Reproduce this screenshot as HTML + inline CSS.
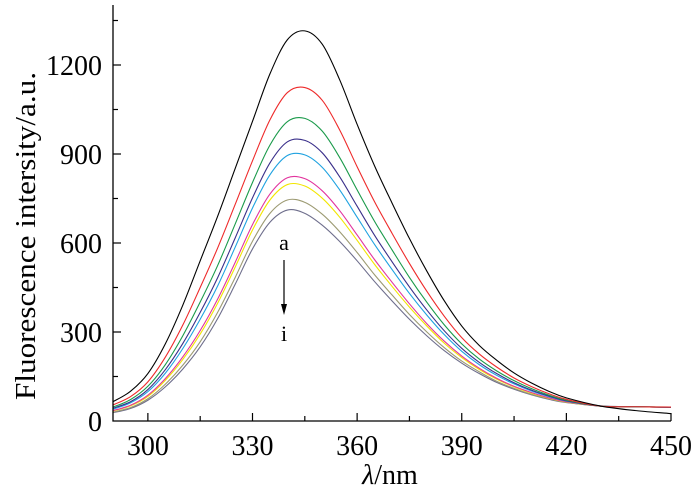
<!DOCTYPE html>
<html><head><meta charset="utf-8"><style>
body{margin:0;background:#fff}
svg{display:block;font-family:"Liberation Serif",serif}
</style></head><body>
<svg id="c" width="700" height="496"></svg>
<script>
const wl=[290,295,300,305,310,315,320,325,330,335,340,345,350,355,360,365,370,375,380,385,390,395,400,405,410,415,420,430,440,450];
const sA=[65,100,160,260,390,540,690,850,1010,1170,1285,1315,1270,1150,1000,860,735,615,505,405,320,255,205,162,128,100,78,50,35,25];
const sB=[54,82,132,215,323,450,583,729,877,1015,1107,1124,1081,981,857,739,633,531,437,353,281,226,182,145,116,92,73,50,48,47];
const sC=[47,72,117,190,287,401,524,663,804,930,1009,1020,977,888,779,673,577,484,400,324,260,209,169,136,109,87,70,50,48,47];
const sD=[43,65,106,173,261,366,483,616,752,870,941,946,904,823,724,626,537,452,374,304,245,198,160,129,104,84,68,50,48,46];
const sE=[40,61,99,161,244,343,455,585,718,830,895,897,855,779,687,595,511,430,357,291,235,190,154,125,101,82,67,50,48,46];
const sF=[35,53,87,143,216,305,411,534,662,765,820,817,776,709,627,544,468,395,328,269,219,178,144,117,96,78,65,50,48,46];
const sG=[34,51,83,137,207,293,397,518,644,745,797,792,751,687,609,528,454,384,320,262,214,174,141,115,94,77,64,50,48,46];
const sH=[30,45,75,124,188,267,366,483,606,700,745,737,697,638,568,493,425,359,300,247,202,166,134,110,90,75,63,50,48,46];
const sI=[28,42,70,115,175,250,345,460,580,670,711,700,660,605,540,470,405,343,287,237,195,160,130,107,88,73,62,51,48,46];
const series=[sA,sB,sC,sD,sE,sF,sG,sH,sI];
const seriesNames=['a','b','c','d','e','f','g','h','i'];
const colors=['#000','#ee2a2a','#1a9a4a','#3a2f8a','#1fa2e0','#e2349e','#f2e600','#9c9a72','#6e6e8c'];
const xTicks=[300,330,360,390,420,450];
const yTicks=[0,300,600,900,1200];
const X=v=>113+(v-290)*(671-113)/160;
const Y=v=>421-v*(421-65)/1200;
const svg=document.getElementById('c');
const NS='http://www.w3.org/2000/svg';
function mk(t,a){const e=document.createElementNS(NS,t);for(const k in a)e.setAttribute(k,a[k]);svg.appendChild(e);return e;}
function path(xs,ys){const p=xs.map((x,i)=>[X(x),Y(ys[i])]);let d='M'+p[0][0]+','+p[0][1];
for(let i=0;i<p.length-1;i++){const p0=p[i-1]||p[i],p1=p[i],p2=p[i+1],p3=p[i+2]||p2;
d+=` C${p1[0]+(p2[0]-p0[0])/6},${p1[1]+(p2[1]-p0[1])/6} ${p2[0]-(p3[0]-p1[0])/6},${p2[1]-(p3[1]-p1[1])/6} ${p2[0]},${p2[1]}`;}return d;}
for(let s=series.length-1;s>=0;s--){const e=mk('path',{d:path(wl,series[s]),fill:'none',stroke:colors[s],'stroke-width':1.1});

}
let e=mk('path',{d:'M113,5 V421 H671',fill:'none',stroke:'#000','stroke-width':1.3});


for(let v=300;v<=450;v+=15){const big=xTicks.includes(v);mk('line',{x1:X(v),x2:X(v),y1:421,y2:big?413:416,stroke:'#000','stroke-width':1.2});}
xTicks.forEach(v=>{const t=mk('text',{x:X(v),y:455,'font-size':28,'text-anchor':'middle'});t.textContent=v;

});
for(let v=150;v<=1350;v+=150){const big=yTicks.includes(v);mk('line',{x1:113,x2:big?121:118,y1:Y(v),y2:Y(v),stroke:'#000','stroke-width':1.2});}
yTicks.forEach(v=>{const t=mk('text',{x:102,y:Y(v)+10,'font-size':28,'text-anchor':'end'});t.textContent=v;

});
let t=mk('text',{x:390,y:484,'font-size':28,'text-anchor':'middle'});t.innerHTML='<tspan font-style="italic">λ</tspan>/nm';


t=mk('text',{x:0,y:0,'font-size':28,'text-anchor':'middle',textLength:328,lengthAdjust:'spacingAndGlyphs',transform:'translate(35,236) rotate(-90)'});t.textContent='Fluorescence intersity/a.u.';


t=mk('text',{x:284,y:250,'font-size':22,'text-anchor':'middle'});t.textContent='a';


t=mk('text',{x:284,y:341,'font-size':22,'text-anchor':'middle'});t.textContent='i';


e=mk('line',{x1:284,x2:284,y1:260,y2:308,stroke:'#000','stroke-width':1.2});


mk('path',{d:'M281,304 L284,315 L287,304 Z',fill:'#000'});
</script>
</body></html>
